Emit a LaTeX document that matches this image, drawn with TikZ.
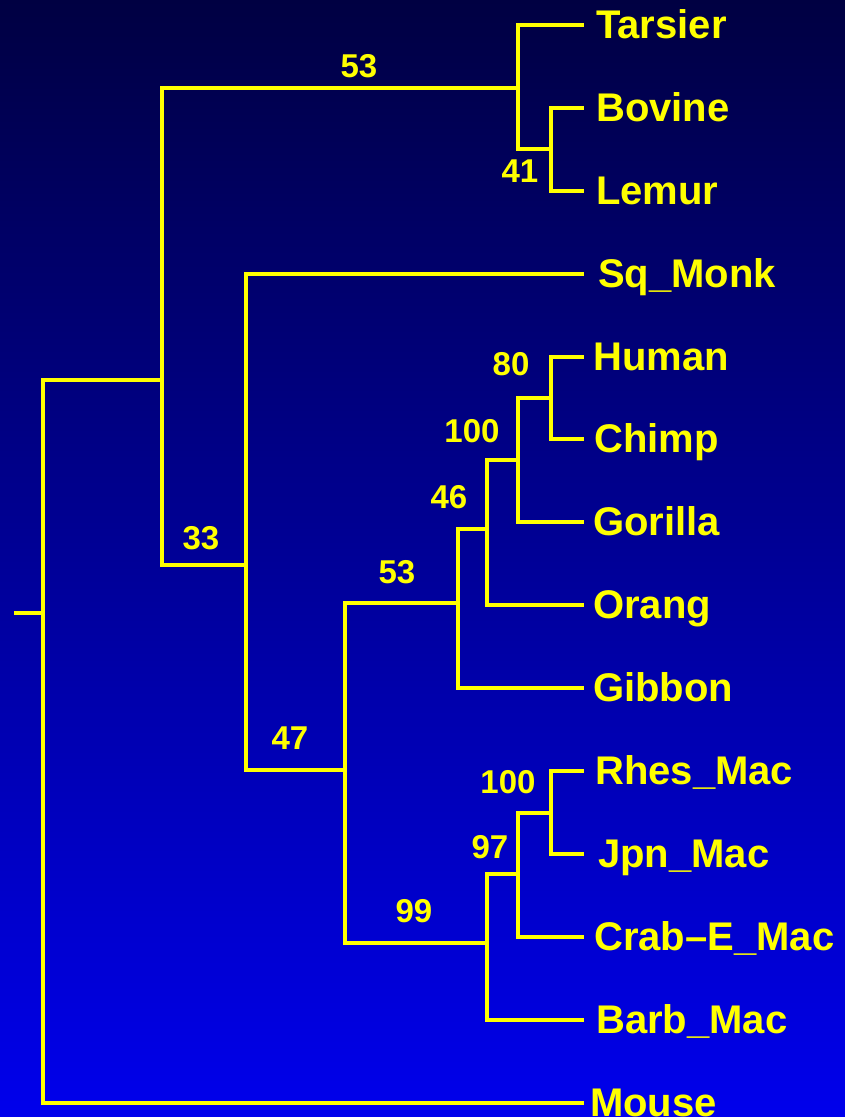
\documentclass[tikz,border=0pt]{standalone}
\usepackage{fontspec}
\setmainfont{Liberation Sans}
\begin{document}
\begin{tikzpicture}[x=1pt,y=-1pt,
  branch/.style={draw=treeyellow,line width=4pt,line cap=rect,line join=miter},
  leaf/.style={anchor=base west,inner sep=0pt,text=treeyellow,font=\fontsize{40}{40}\selectfont\bfseries},
  boot/.style={anchor=base,inner sep=0pt,text=treeyellow,font=\fontsize{33}{33}\selectfont\bfseries}]
\definecolor{treeyellow}{RGB}{255,255,0}
\definecolor{bgtop}{RGB}{0,0,66}
\definecolor{bgbot}{RGB}{0,0,236}
\useasboundingbox (0,0) rectangle (845,1117);
\shade[top color=bgtop,bottom color=bgbot] (0,0) rectangle (845,1117);
% internal nodes
\coordinate (stub) at (16,613);
\coordinate (root) at (43,613);
\coordinate (nA) at (162,380);
\coordinate (n53t) at (518,88);
\coordinate (n41) at (551,149);
\coordinate (n33) at (246,565);
\coordinate (n47) at (345,770);
\coordinate (n53b) at (458,603);
\coordinate (n46) at (487,529);
\coordinate (n100a) at (518,460);
\coordinate (n80) at (551,398);
\coordinate (n99) at (487,943);
\coordinate (n97) at (518,874);
\coordinate (n100b) at (551,813);
% leaf ends
\coordinate (eTarsier) at (582,25);
\coordinate (eBovine) at (582,108);
\coordinate (eLemur) at (582,191);
\coordinate (eSq) at (582,274);
\coordinate (eHuman) at (582,357);
\coordinate (eChimp) at (582,439);
\coordinate (eGorilla) at (582,522);
\coordinate (eOrang) at (582,605);
\coordinate (eGibbon) at (582,688);
\coordinate (eRhes) at (582,771);
\coordinate (eJpn) at (582,854);
\coordinate (eCrab) at (582,937);
\coordinate (eBarb) at (582,1020);
\coordinate (eMouse) at (582,1103);
% branches
\draw[branch] (stub) -- (root);
\draw[branch] (root) |- (nA);
\draw[branch] (root) |- (eMouse);
\draw[branch] (nA) |- (n53t);
\draw[branch] (nA) |- (n33);
\draw[branch] (n53t) |- (eTarsier);
\draw[branch] (n53t) |- (n41);
\draw[branch] (n41) |- (eBovine);
\draw[branch] (n41) |- (eLemur);
\draw[branch] (n33) |- (eSq);
\draw[branch] (n33) |- (n47);
\draw[branch] (n47) |- (n53b);
\draw[branch] (n47) |- (n99);
\draw[branch] (n53b) |- (n46);
\draw[branch] (n53b) |- (eGibbon);
\draw[branch] (n46) |- (n100a);
\draw[branch] (n46) |- (eOrang);
\draw[branch] (n100a) |- (n80);
\draw[branch] (n100a) |- (eGorilla);
\draw[branch] (n80) |- (eHuman);
\draw[branch] (n80) |- (eChimp);
\draw[branch] (n99) |- (n97);
\draw[branch] (n99) |- (eBarb);
\draw[branch] (n97) |- (n100b);
\draw[branch] (n97) |- (eCrab);
\draw[branch] (n100b) |- (eRhes);
\draw[branch] (n100b) |- (eJpn);
% leaf labels
\node[leaf] (Tarsier) at (596,38) {Tarsier};
\node[leaf] (Bovine) at (596,121) {Bovine};
\node[leaf] (Lemur) at (596,204) {Lemur};
\node[leaf] (Sq) at (598,287) {Sq\_Monk};
\node[leaf] (Human) at (593,370) {Human};
\node[leaf] (Chimp) at (594,452) {Chimp};
\node[leaf] (Gorilla) at (593,535) {Gorilla};
\node[leaf] (Orang) at (593,618) {Orang};
\node[leaf] (Gibbon) at (593,701) {Gibbon};
\node[leaf] (Rhes) at (595,784) {Rhes\_Mac};
\node[leaf] (Jpn) at (598,867) {Jpn\_Mac};
\node[leaf] (Crab) at (594,950) {Crab–E\_Mac};
\node[leaf] (Barb) at (596,1033) {Barb\_Mac};
\node[leaf] (Mouse) at (590,1116) {Mouse};
% bootstrap labels
\node[boot] (b53t) at (359,77) {53};
\node[boot] (b41) at (520,182) {41};
\node[boot] (b80) at (511,375) {80};
\node[boot] (b100a) at (472,442) {100};
\node[boot] (b46) at (449,508) {46};
\node[boot] (b33) at (201,549) {33};
\node[boot] (b53b) at (397,583) {53};
\node[boot] (b47) at (290,749) {47};
\node[boot] (b100b) at (508,793) {100};
\node[boot] (b97) at (490,858) {97};
\node[boot] (b99) at (414,922) {99};
\end{tikzpicture}
\end{document}
